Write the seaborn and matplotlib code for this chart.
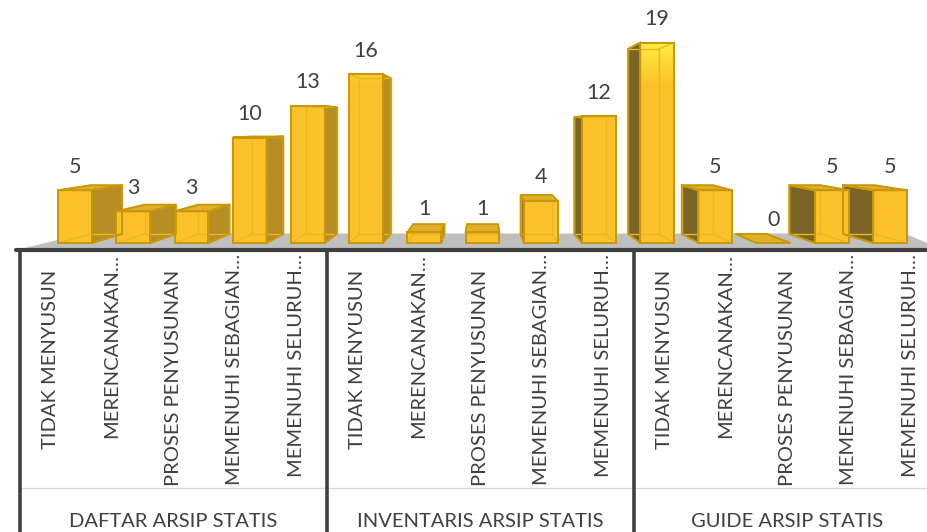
import numpy as np
import pandas as pd
import seaborn as sns
import matplotlib
matplotlib.use("Agg")
import matplotlib.pyplot as plt
from matplotlib.patches import Polygon, Rectangle
from matplotlib.colors import LinearSegmentedColormap
from matplotlib.transforms import ScaledTranslation

# ---- data -------------------------------------------------------------
groups = ["DAFTAR ARSIP STATIS", "INVENTARIS ARSIP STATIS", "GUIDE ARSIP STATIS"]
levels = ["TIDAK MENYUSUN", "MERENCANAKAN…", "PROSES PENYUSUNAN",
          "MEMENUHI SEBAGIAN…", "MEMENUHI SELURUH…"]
daftar = [5, 3, 3, 10, 13]
inventaris = [16, 1, 1, 4, 12]
guide = [19, 5, 0, 5, 5]

# ---- style ------------------------------------------------------------
sns.set_theme(style="white")
plt.rcParams["font.family"] = ["Lato", "DejaVu Sans"]

TEXT = "#404040"
FRONT_LO, FRONT_HI = "#FBC12A", "#FFEC42"
EDGE = "#C8980A"
INNER = "#EBB823"
SIDE_R, SIDE_L, TOP = "#B58D24", "#7B6427", "#DDAF2B"
FLOOR = "#BFBFBF"

df = pd.DataFrame({
    "group": np.repeat(groups, len(levels)),
    "level": levels * len(groups),
    "count": daftar + inventaris + guide,
})
df["slot"] = df["group"] + " | " + df["level"]

W, H, DPI = 928, 532, 100
fig = plt.figure(figsize=(W / DPI, H / DPI), dpi=DPI)
fig.patch.set_facecolor("white")


def fx(px):
    return px / W


def fy(py):
    return 1 - py / H


# ---- plot area holding the 3-D columns --------------------------------
PPU = 10.55          # pixels per unit of count
BASE = 243           # pixel row of the column fronts' base
AX_L, AX_R, AX_B = 46, 919, 260
ax = fig.add_axes([fx(AX_L), fy(AX_B), fx(AX_R) - fx(AX_L), fy(0) - fy(AX_B)])
ax.set_zorder(1)
ax.patch.set_visible(False)

sns.barplot(data=df, x="slot", y="count", order=list(df["slot"]),
            color=FRONT_LO, saturation=1, width=0.58, errorbar=None,
            edgecolor=EDGE, linewidth=1.4, ax=ax)
ax.set_xlim(-0.5, 14.5)
ax.set_ylim(-(AX_B - BASE) / PPU, BASE / PPU)
ax.axis("off")

slot_px = (AX_R - AX_L) / 15


def dx(px):
    return (px - AX_L) / slot_px - 0.5


def dy(py):
    return (BASE - py) / PPU


# perspective: back faces shrink towards a vanishing point
VX, VY, S = 7.0, dy(125), 0.923


def recede(pt):
    return (VX + (pt[0] - VX) * S, VY + (pt[1] - VY) * S)


# floor plane
floor = Polygon([(dx(16), dy(250)), (dx(942), dy(249.5)),
                 (dx(905), dy(233.5)), (dx(85), dy(233.5))],
                closed=True, facecolor=FLOOR, edgecolor="none",
                zorder=0.5, clip_on=False)
ax.add_patch(floor)

cmap = LinearSegmentedColormap.from_list("gold", [FRONT_LO, FRONT_LO, FRONT_HI])
ymax = max(df["count"])

for p, val in zip(ax.patches, df["count"]):
    x0, w, h = p.get_x(), p.get_width(), p.get_height()
    x1 = x0 + w
    F = [(x0, 0), (x1, 0), (x1, h), (x0, h)]
    B = [recede(c) for c in F]
    p.set_zorder(3)

    faces = []
    if h > 0 and x1 < VX:
        faces.append(([F[1], F[2], B[2], B[1]], SIDE_R))
    if h > 0 and x0 > VX:
        faces.append(([F[0], F[3], B[3], B[0]], SIDE_L))
    if h < VY:
        faces.append(([F[3], F[2], B[2], B[3]], TOP))
    for verts, col in faces:
        ax.add_patch(Polygon(verts, closed=True, facecolor=col,
                             edgecolor="none", zorder=2))

    if h > 0:
        ys = np.linspace(0, h, 120)
        t = np.clip((ys - 11) / (ymax - 11), 0, 1)
        im = ax.imshow(t[:, None], extent=[x0, x1, 0, h], origin="lower",
                       aspect="auto", cmap=cmap, vmin=0, vmax=1, zorder=3.2)
        im.set_clip_path(p)

    # edges seen through the translucent column
    for a, b in zip(B, B[1:] + B[:1]):
        ax.plot([a[0], b[0]], [a[1], b[1]], color=INNER, lw=1.0, zorder=4)
    for a, b in zip(F, B):
        ax.plot([a[0], b[0]], [a[1], b[1]], color=INNER, lw=1.0, zorder=4)

    # visible outlines
    for verts, col in faces:
        ax.add_patch(Polygon(verts, closed=True, facecolor="none",
                             edgecolor=EDGE, lw=1.4, zorder=5))
    ax.add_patch(Rectangle((x0, 0), w, h, facecolor="none",
                           edgecolor=EDGE, lw=1.4, zorder=5))

    ax.annotate(f"{val}", xy=(x0 + w / 2, h), xytext=(0, 17.5 * 72 / DPI),
                textcoords="offset points", ha="center", va="baseline",
                fontsize=15.5, color=TEXT, zorder=6)

ax.set_xlim(-0.5, 14.5)
ax.set_ylim(-(AX_B - BASE) / PPU, BASE / PPU)

# ---- multi-level category axis ---------------------------------------
CAT_L, CAT_R, CAT_T = 20, 941, 250
axc = fig.add_axes([fx(CAT_L), 0, fx(CAT_R) - fx(CAT_L), fy(CAT_T)])
axc.set_zorder(2)
axc.patch.set_visible(False)
axc.set_xlim(-0.5, 14.5)
axc.set_ylim(0, 1)
axc.set_xticks([])
axc.set_yticks([])
for s in axc.spines.values():
    s.set_visible(False)

cat_h = H - CAT_T


def fr(py):
    return (H - py) / cat_h


axc.axhline(1, xmin=-4 / (CAT_R - CAT_L), xmax=1, color=TEXT, lw=3,
            clip_on=False, solid_capstyle="round")
axc.axhline(fr(488), color="#D9D9D9", lw=1)
for xb in [-0.5, 4.5, 9.5, 14.5]:
    axc.axvline(xb, color=TEXT, lw=2.6, clip_on=False)

TICK_FS = 14.5
renderer = fig.canvas.get_renderer()
probe = fig.text(0, 0, "…", fontsize=TICK_FS)
ell_w = probe.get_window_extent(renderer).width
probe.remove()

xt = axc.get_xaxis_transform()
for i, lbl in enumerate(df["level"]):
    if lbl.endswith("…"):
        tr = xt + ScaledTranslation(0, (ell_w - 3) / DPI, fig.dpi_scale_trans)
        ytop = fr(266)
    else:
        tr = xt
        ytop = fr(270)
    axc.text(i, ytop, lbl, transform=tr, rotation=90, rotation_mode="anchor",
             ha="right", va="center", fontsize=TICK_FS, color=TEXT)

for k, g in enumerate(groups):
    axc.text(5 * k + 2, fr(527), g, transform=xt, ha="center",
             va="baseline", fontsize=14.5, color=TEXT)

fig.savefig("out.png", dpi=DPI, facecolor="white")
